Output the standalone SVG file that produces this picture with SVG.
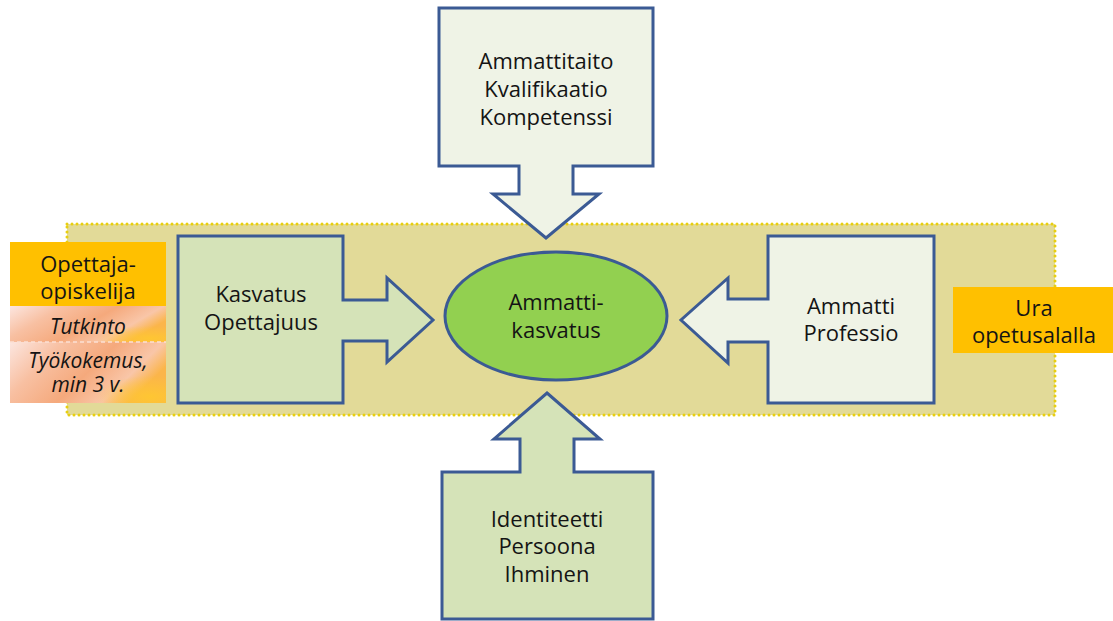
<svg xmlns="http://www.w3.org/2000/svg" width="1113" height="621" viewBox="0 0 1113 621">
  <defs>
    <style>
      .txt { font-family: "Open Sans", "Liberation Sans", sans-serif; font-size: 22px; fill: #141414; text-anchor: middle; }
      .it { font-family: "Open Sans", "Liberation Sans", sans-serif; font-size: 21px; font-style: italic; fill: #141414; text-anchor: middle; }
      .shape { stroke: #3b5a94; stroke-width: 3; stroke-linejoin: miter; }
      .green { fill: #d5e3b8; }
      .pale { fill: #eff3e6; }
      .orange { fill: #ffc000; }
    </style>
    <linearGradient id="peach" x1="0" y1="0" x2="1" y2="0.4">
      <stop offset="0" stop-color="#fce6e0"/>
      <stop offset="0.3" stop-color="#f8c0a2"/>
      <stop offset="0.6" stop-color="#f5a97c"/>
      <stop offset="0.85" stop-color="#f9c6a8"/>
      <stop offset="1" stop-color="#fbb54a"/>
    </linearGradient>
    <radialGradient id="spot" cx="0.9" cy="0.9" r="0.35">
      <stop offset="0" stop-color="#ffc830" stop-opacity="0.9"/>
      <stop offset="1" stop-color="#ffc830" stop-opacity="0"/>
    </radialGradient>
  </defs>

  <rect x="0" y="0" width="1113" height="621" fill="#ffffff"/>

  <g id="band">
    <rect x="67" y="224" width="988" height="191" fill="#e2da98" stroke="#e8cf10" stroke-width="3" stroke-dasharray="0 5" stroke-linecap="round"/>
  </g>

  <g id="connectors">
    <path id="arrow-top" class="shape pale" d="M439,8 H653 V166 H573 V194 H599 L546,238 L493,194 H519 V166 H439 Z"/>
    <path id="arrow-bottom" class="shape green" d="M547,393 L600,439 H574 V472 H653 V619 H442 V472 H520 V439 H494 Z"/>
    <path id="arrow-left" class="shape green" d="M178,236 H343 V300 H387 V278 L433,320 L387,362 V341 H343 V403 H178 Z"/>
    <path id="arrow-right" class="shape pale" d="M934,236 H768 V299 H728 V278 L681,320 L728,363 V342 H768 V403 H934 Z"/>
  </g>

  <g id="node-top">
    <text class="txt" x="546" y="69">Ammattitaito</text>
    <text class="txt" x="546" y="97">Kvalifikaatio</text>
    <text class="txt" x="546" y="125">Kompetenssi</text>
  </g>

  <g id="node-left">
    <text class="txt" x="261" y="302">Kasvatus</text>
    <text class="txt" x="261" y="330">Opettajuus</text>
  </g>

  <g id="node-right">
    <text class="txt" x="851" y="314">Ammatti</text>
    <text class="txt" x="851" y="341">Professio</text>
  </g>

  <g id="node-bottom">
    <text class="txt" x="547" y="527">Identiteetti</text>
    <text class="txt" x="547" y="554">Persoona</text>
    <text class="txt" x="547" y="582">Ihminen</text>
  </g>

  <g id="node-center">
    <ellipse cx="556" cy="316" rx="111" ry="64" fill="#92d050" stroke="#3b5a94" stroke-width="3"/>
    <text class="txt" x="556" y="310">Ammatti-</text>
    <text class="txt" x="556" y="338">kasvatus</text>
  </g>

  <g id="node-opettaja">
    <rect class="orange" x="10" y="242" width="156" height="64"/>
    <text class="txt" x="88" y="272">Opettaja-</text>
    <text class="txt" x="88" y="299">opiskelija</text>
  </g>

  <g id="node-tutkinto">
    <rect x="10" y="306" width="156" height="36" fill="url(#peach)"/>
    <rect x="10" y="306" width="156" height="36" fill="url(#spot)"/>
    <text class="it" x="88" y="334">Tutkinto</text>
  </g>

  <g id="node-tyokokemus">
    <rect x="10" y="342" width="156" height="61" fill="url(#peach)"/>
    <rect x="10" y="342" width="156" height="61" fill="url(#spot)"/>
    <line x1="10" y1="342" x2="166" y2="342" stroke="#fbe0d4" stroke-width="1.5" stroke-dasharray="4 3"/>
    <text class="it" x="88" y="368">Työkokemus,</text>
    <text class="it" x="88" y="392">min 3 v.</text>
  </g>

  <g id="node-ura">
    <rect class="orange" x="953" y="287" width="160" height="66"/>
    <text class="txt" x="1034" y="316">Ura</text>
    <text class="txt" x="1034" y="343">opetusalalla</text>
  </g>
</svg>
